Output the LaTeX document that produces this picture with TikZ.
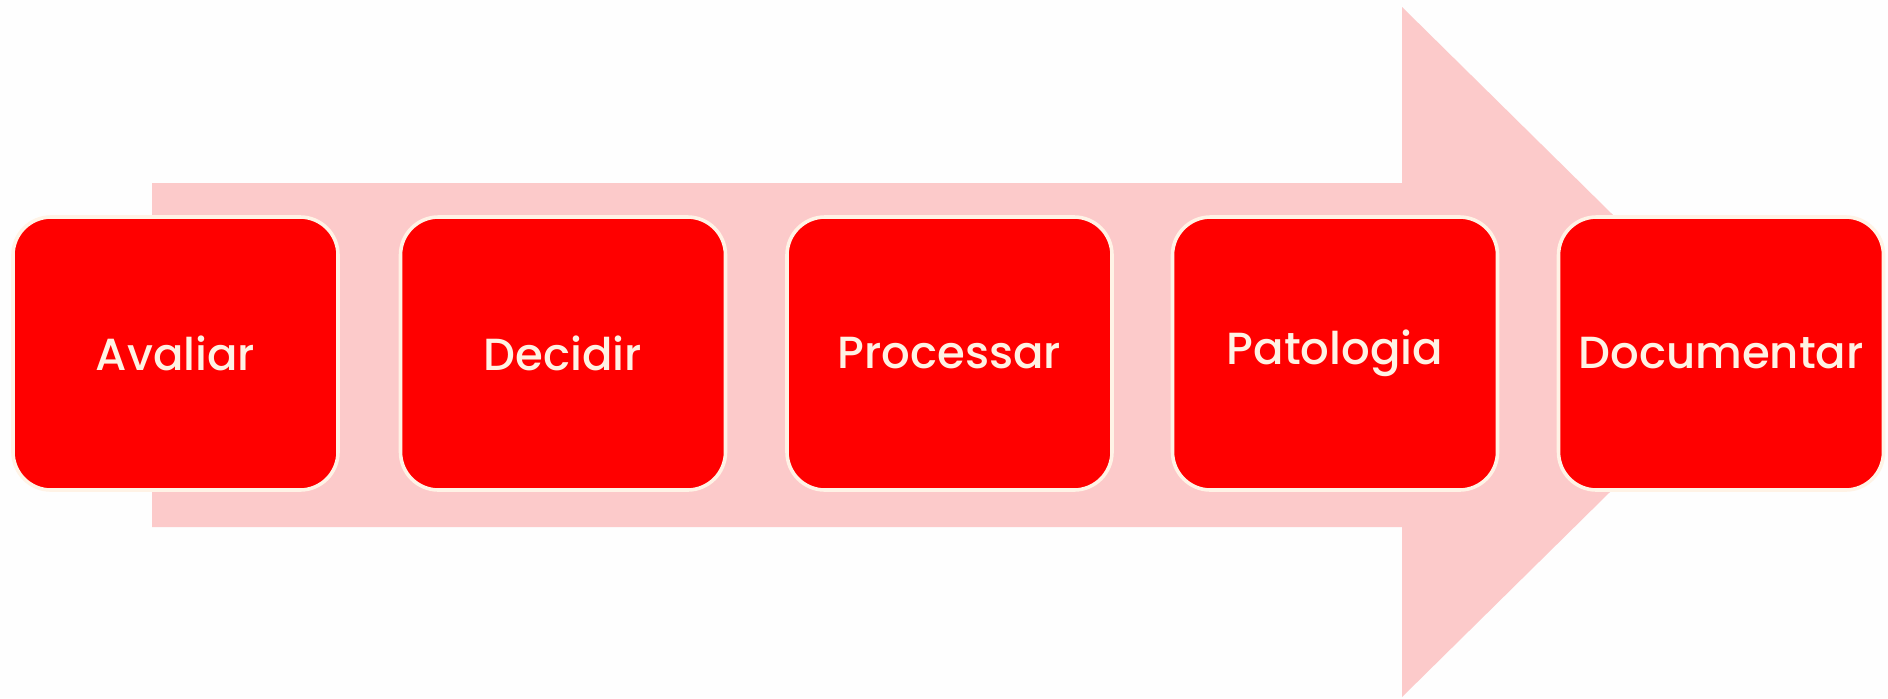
\documentclass[tikz,border=0pt]{standalone}
\usepackage{fontspec}
\setmainfont{Poppins}
\IfFontExistsTF{Poppins Medium}
  {\newfontfamily\boxfont{Poppins Medium}}
  {\newfontfamily\boxfont{Poppins}}
\definecolor{bgc}{HTML}{FEFEFE}
\definecolor{arrowc}{HTML}{FCCACA}
\definecolor{boxc}{HTML}{FF0000}
\definecolor{edgec}{HTML}{FFF3E6}
\definecolor{txtc}{HTML}{FFF2E4}
\begin{document}
\begin{tikzpicture}[x=0.5pt,y=-0.5pt,
  stepbox/.style={draw=edgec, line width=1.8pt, fill=boxc, rounded corners=19pt,
    minimum width=162.5pt, minimum height=136.5pt, inner sep=0pt,
    text=txtc, font=\boxfont\fontsize{22.5}{27}\selectfont}]
\fill[bgc] (0,0) rectangle (1888,698);
\useasboundingbox (0,0) rectangle (1888,698);
% big arrow
\fill[arrowc] (152,183) -- (1402,183) -- (1402,7) -- (1752,352) -- (1402,697) -- (1402,527) -- (152,527) -- cycle;
% boxes
\node[stepbox] (n1) at (175.5,353.5) {Avaliar};
\node[stepbox] (n2) at (563,353.5) {Decidir};
\node[stepbox] (n3) at (949.5,353.5) {Processar};
\node[stepbox] (n4) at (1335,353.5) {Patologia};
\node[stepbox] (n5) at (1721,353.5) {Documentar};
\end{tikzpicture}
\end{document}
